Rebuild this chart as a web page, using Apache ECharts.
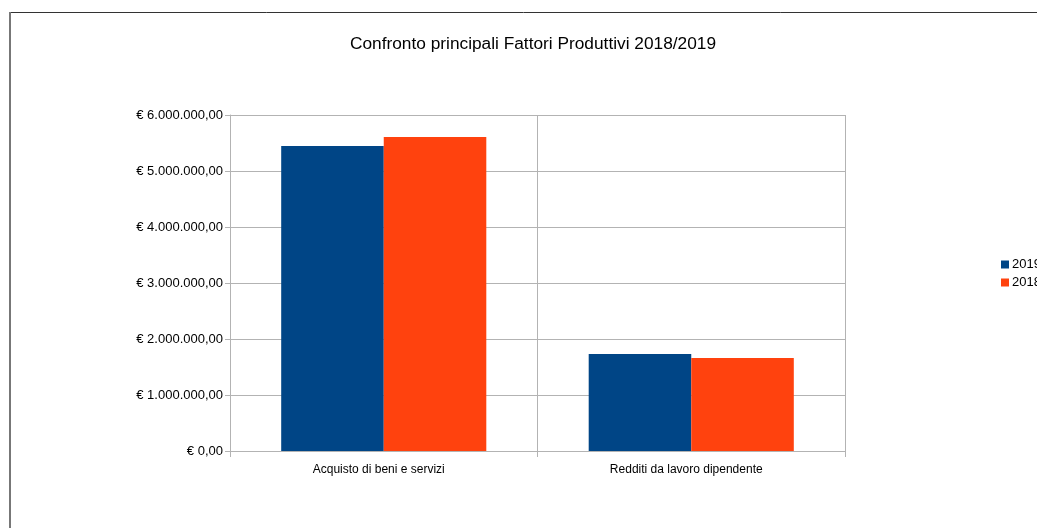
<!DOCTYPE html>
<html>
<head>
<meta charset="utf-8">
<script src="https://cdn.jsdelivr.net/npm/echarts@6/dist/echarts.min.js"></script>
<style>
html,body{margin:0;padding:0;background:#fff;}
#chart{width:1037px;height:528px;}
</style>
</head>
<body>
<div id="chart"></div>
<script>
var categories = ['Acquisto di beni e servizi', 'Redditi da lavoro dipendente'];
var seriesNames = ['2019', '2018'];
var values2019 = [5446000, 1732000];
var values2018 = [5607000, 1661000];
var yTicks = [0, 1000000, 2000000, 3000000, 4000000, 5000000, 6000000];

function fmtEuro(v) {
  var s = Math.round(v).toString().replace(/\B(?=(\d{3})+(?!\d))/g, '.');
  return '€ ' + s + ',00';
}

var chart = echarts.init(document.getElementById('chart'), null, {renderer: 'canvas'});
var font = 'Liberation Sans';
chart.setOption({
  backgroundColor: '#ffffff',
  animation: false,
  title: {
    text: 'Confronto principali Fattori Produttivi 2018/2019',
    left: 345,
    top: 31,
    textStyle: {fontFamily: font, fontSize: 17.3, fontWeight: 'normal', color: '#000'}
  },
  legend: {
    orient: 'vertical',
    left: 1001,
    top: 258,
    padding: 0,
    itemWidth: 8,
    itemHeight: 8,
    itemGap: 5,
    icon: 'rect',
    data: seriesNames,
    textStyle: {fontFamily: font, fontSize: 13, color: '#000', padding: [0, 0, 0, -2]}
  },
  graphic: [
    {type: 'line', shape: {x1: 10, y1: 12.5, x2: 1037, y2: 12.5}, style: {stroke: '#333', lineWidth: 1}},
    {type: 'line', shape: {x1: 10, y1: 12, x2: 10, y2: 528}, style: {stroke: '#777', lineWidth: 2}}
  ],
  grid: {left: 230, right: 192, top: 115, bottom: 77, containLabel: false},
  xAxis: {
    type: 'category',
    data: categories,
    axisLine: {show: true, lineStyle: {color: '#b3b3b3', width: 1}},
    axisTick: {show: true, alignWithLabel: false, length: 6, lineStyle: {color: '#b3b3b3'}},
    splitLine: {show: true, lineStyle: {color: '#b3b3b3', width: 1}},
    axisLabel: {fontFamily: font, fontSize: 12, color: '#000', margin: 13, padding: [0, 10, 0, 0]}
  },
  yAxis: {
    type: 'value',
    min: 0,
    max: 6000000,
    interval: 1000000,
    axisLine: {show: true, lineStyle: {color: '#b3b3b3', width: 1}},
    axisTick: {show: true, length: 5, lineStyle: {color: '#b3b3b3'}},
    splitLine: {show: true, lineStyle: {color: '#b3b3b3', width: 1}},
    axisLabel: {fontFamily: font, fontSize: 13, color: '#000', margin: 7,
      formatter: function (v) { return fmtEuro(v); }}
  },
  series: [
    {name: seriesNames[0], type: 'bar', data: values2019, itemStyle: {color: '#004586'},
     barGap: '0%', barCategoryGap: '33.3%'},
    {name: seriesNames[1], type: 'bar', data: values2018, itemStyle: {color: '#ff420e'},
     barGap: '0%', barCategoryGap: '33.3%'}
  ]
});
</script>
</body>
</html>
